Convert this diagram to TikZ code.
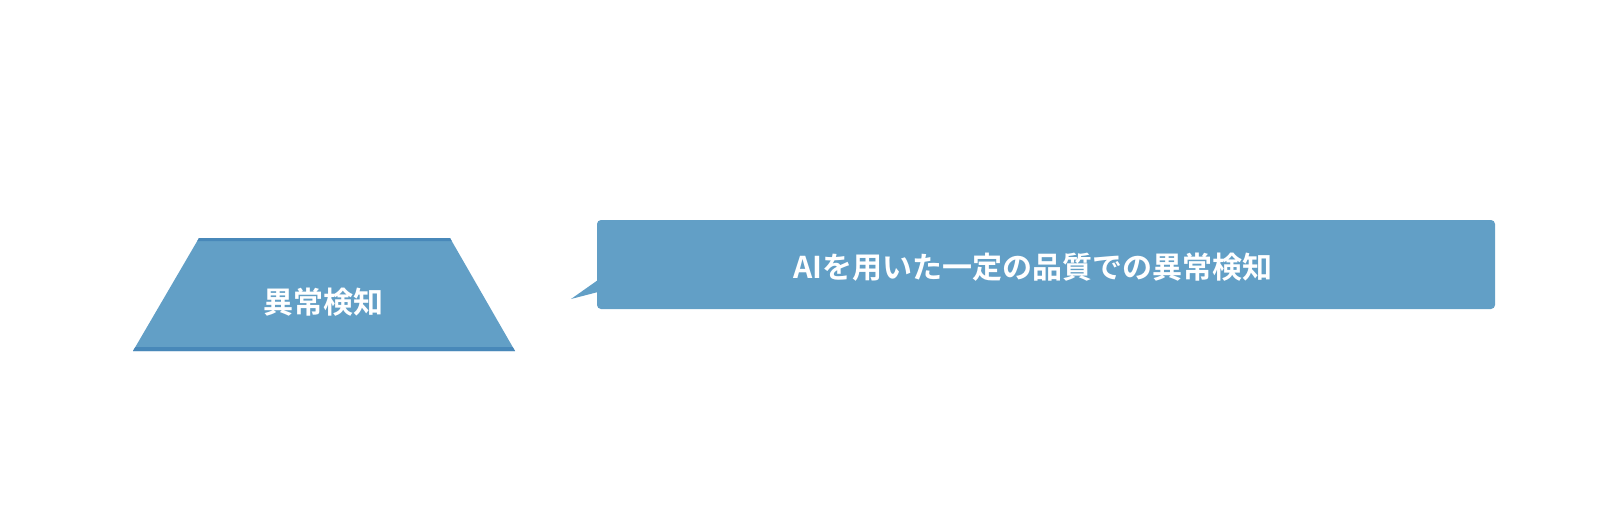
\documentclass[tikz,border=0pt]{standalone}
\usepackage{fontspec}
\newfontfamily\jpfont{Noto Sans CJK JP}[BoldFont={* Bold}]
\definecolor{boxblue}{RGB}{98,159,198}
\definecolor{edgeblue}{RGB}{72,136,185}
\begin{document}
\begin{tikzpicture}[x=1pt,y=-1pt,
  lbl/.style={text=white,font=\jpfont\bfseries\fontsize{30}{30}\selectfont,inner sep=0pt},
  bandline/.style={fill=edgeblue}]
\useasboundingbox (0,0) rectangle (1620,520);
% trapezoid
\fill[boxblue] (199,238) -- (450,238) -- (515,351) -- (133,351) -- cycle;
\fill[bandline] (199,238) -- (450,238) -- (451.7,241) -- (197.3,241) -- cycle;
\fill[bandline] (135.3,347) -- (512.7,347) -- (515,351) -- (133,351) -- cycle;
\node[lbl] (trap) at (323,302) {異常検知};
% callout
\fill[boxblue,rounded corners=4pt] (597,220) rectangle (1495,309);
\fill[boxblue] (598,280) -- (571,299) -- (598,292) -- cycle;
\node[lbl] (callout) at (1033,267) {AIを用いた一定の品質での異常検知};
\end{tikzpicture}
\end{document}
